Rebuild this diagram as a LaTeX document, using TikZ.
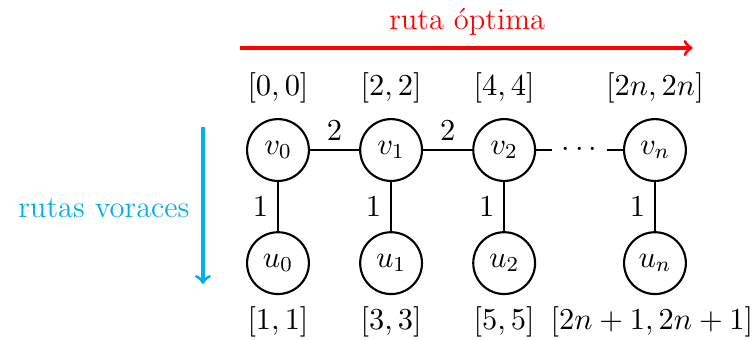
\documentclass[tikz,border=0pt]{standalone}
\usepackage{fix-cm}
\usepackage{tikz}
\definecolor{voraz}{RGB}{0,174,239}
\begin{document}
\begin{tikzpicture}[
  every node/.style={font=\fontsize{11.5}{14}\selectfont},
  vert/.style={circle,draw,thick,minimum size=0.82cm,inner sep=0pt},
  edge/.style={thick}
]
\useasboundingbox (-3.687,-2.507) rectangle (6.34,1.99);
\node[vert] (v0) at (0,0) {$v_0$};
\node[vert] (v1) at (1.5,0) {$v_1$};
\node[vert] (v2) at (3,0) {$v_2$};
\node[vert] (vn) at (5,0) {$v_n$};
\node[vert] (u0) at (0,-1.5) {$u_0$};
\node[vert] (u1) at (1.5,-1.5) {$u_1$};
\node[vert] (u2) at (3,-1.5) {$u_2$};
\node[vert] (un) at (5,-1.5) {$u_n$};
\node (dots) at (4,0) {$\cdots$};

\draw[edge] (v0) -- node[above] {$2$} (v1);
\draw[edge] (v1) -- node[above] {$2$} (v2);
\draw[edge] (v2) -- (dots);
\draw[edge] (dots) -- (vn);
\draw[edge] (v0) -- node[left] {$1$} (u0);
\draw[edge] (v1) -- node[left] {$1$} (u1);
\draw[edge] (v2) -- node[left] {$1$} (u2);
\draw[edge] (vn) -- node[left] {$1$} (un);

\node (l0) at (0,0.82) {$[0,0]$};
\node (l1) at (1.5,0.82) {$[2,2]$};
\node (l2) at (3,0.82) {$[4,4]$};
\node (ln) at (5,0.82) {$[2n,2n]$};
\node (m0) at (0,-2.28) {$[1,1]$};
\node (m1) at (1.5,-2.28) {$[3,3]$};
\node (m2) at (3,-2.28) {$[5,5]$};
\node (mn) at (4.96,-2.28) {$[2n+1,2n+1]$};

\coordinate (ra) at (-0.504,1.353);
\coordinate (rb) at (5.50,1.353);
\draw[red,very thick,->] (ra) -- (rb);
\node[red] (rl) at (2.51,1.70) {ruta óptima};

\coordinate (ba) at (-0.995,0.305);
\coordinate (bb) at (-0.995,-1.777);
\draw[voraz,very thick,->] (ba) -- (bb);
\node[voraz,anchor=east,inner sep=0pt] (bl) at (-1.167,-0.77) {rutas voraces};
\end{tikzpicture}
\end{document}
